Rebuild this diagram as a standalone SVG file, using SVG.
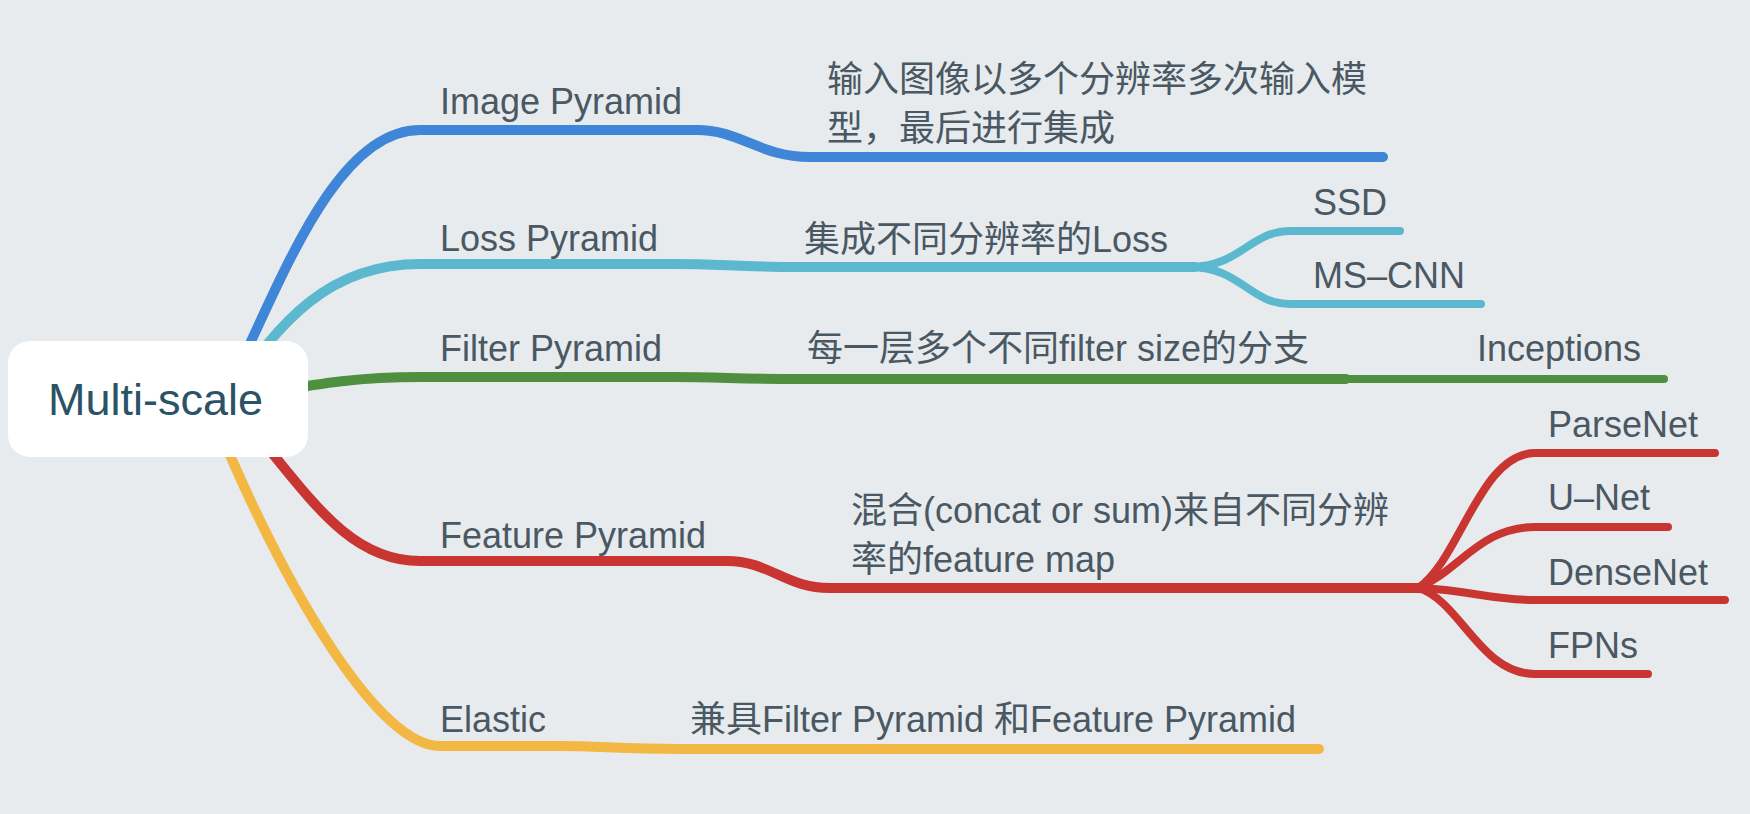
<svg xmlns="http://www.w3.org/2000/svg" width="1750" height="814" viewBox="0 0 1750 814">
<style>
.bg{fill:#e7ebee}
.c{fill:none;stroke-linecap:round;stroke-linejoin:round}
.w1{stroke-width:10}
.w2{stroke-width:8}
.blue{stroke:#3f86d8}
.cyan{stroke:#5bb8cf}
.green{stroke:#4f8f40}
.red{stroke:#c93632}
.yellow{stroke:#f2b843}
.t{font-family:"Liberation Sans","Noto Sans CJK SC",sans-serif;font-size:36px;fill:#4a5863}
.root{font-family:"Liberation Sans","Noto Sans CJK SC",sans-serif;font-size:45px;fill:#2b5266}
</style>
<rect class="bg" x="0" y="0" width="1750" height="814"/>
<g id="connectors">
  <path class="c w1 blue" d="M225,395 C275,300 330,130 420,130 L697,130"/>
  <path class="c w1 blue" d="M697,130 C740,130 760,157 810,157 L1383,157"/>
  <path class="c w1 cyan" d="M228,398 C280,320 330,264 420,264 L674,264"/>
  <path class="c w1 cyan" d="M674,264 C720,264 740,267 800,267 L1195,267"/>
  <path class="c w2 cyan" d="M1190,267 C1240,267 1250,231 1290,231 L1400,231"/>
  <path class="c w2 cyan" d="M1190,267 C1240,267 1250,304 1290,304 L1481,304"/>
  <path class="c w1 green" d="M228,399 C300,388 340,377 420,377 L674,377"/>
  <path class="c w1 green" d="M674,377 C720,377 740,379 800,379 L1346,379"/>
  <path class="c w2 green" d="M1346,379 L1664,379"/>
  <path class="c w1 red" d="M228,401 C300,480 340,561 420,561 L727,561"/>
  <path class="c w1 red" d="M727,561 C770,561 785,588 830,588 L1422,588"/>
  <path class="c w2 red" d="M1418,588 C1460,560 1480,453 1535,453 L1715,453"/>
  <path class="c w2 red" d="M1418,588 C1460,570 1480,527 1535,527 L1668,527"/>
  <path class="c w2 red" d="M1418,588 C1470,590 1490,600 1535,600 L1725,600"/>
  <path class="c w2 red" d="M1418,588 C1460,600 1480,674 1535,674 L1648,674"/>
  <path class="c w1 yellow" d="M215,420 C290,600 380,746 440,746 L558,746"/>
  <path class="c w1 yellow" d="M558,746 C600,746 620,749 680,749 L1319,749"/>
</g>
<g id="root">
  <rect x="8" y="341" width="300" height="116" rx="22" ry="22" fill="#ffffff"/>
  <text class="root" x="48" y="415">Multi-scale</text>
</g>
<g id="image-pyramid"><text class="t" x="440" y="114">Image Pyramid</text></g>
<g id="image-pyramid-desc">
  <text class="t" x="827" y="92">输入图像以多个分辨率多次输入模</text>
  <text class="t" x="827" y="141">型，最后进行集成</text>
</g>
<g id="loss-pyramid"><text class="t" x="440" y="251">Loss Pyramid</text></g>
<g id="loss-pyramid-desc"><text class="t" x="804" y="252">集成不同分辨率的Loss</text></g>
<g id="ssd"><text class="t" x="1313" y="215">SSD</text></g>
<g id="ms-cnn"><text class="t" x="1313" y="288">MS–CNN</text></g>
<g id="filter-pyramid"><text class="t" x="440" y="361">Filter Pyramid</text></g>
<g id="filter-pyramid-desc"><text class="t" x="807" y="361">每一层多个不同filter size的分支</text></g>
<g id="inceptions"><text class="t" x="1477" y="361">Inceptions</text></g>
<g id="feature-pyramid"><text class="t" x="440" y="548">Feature Pyramid</text></g>
<g id="feature-pyramid-desc">
  <text class="t" x="851" y="523">混合(concat or sum)来自不同分辨</text>
  <text class="t" x="851" y="572">率的feature map</text>
</g>
<g id="parsenet"><text class="t" x="1548" y="437">ParseNet</text></g>
<g id="u-net"><text class="t" x="1548" y="510">U–Net</text></g>
<g id="densenet"><text class="t" x="1548" y="585">DenseNet</text></g>
<g id="fpns"><text class="t" x="1548" y="658">FPNs</text></g>
<g id="elastic"><text class="t" x="440" y="732">Elastic</text></g>
<g id="elastic-desc"><text class="t" x="690" y="732">兼具Filter Pyramid 和Feature Pyramid</text></g>
</svg>
